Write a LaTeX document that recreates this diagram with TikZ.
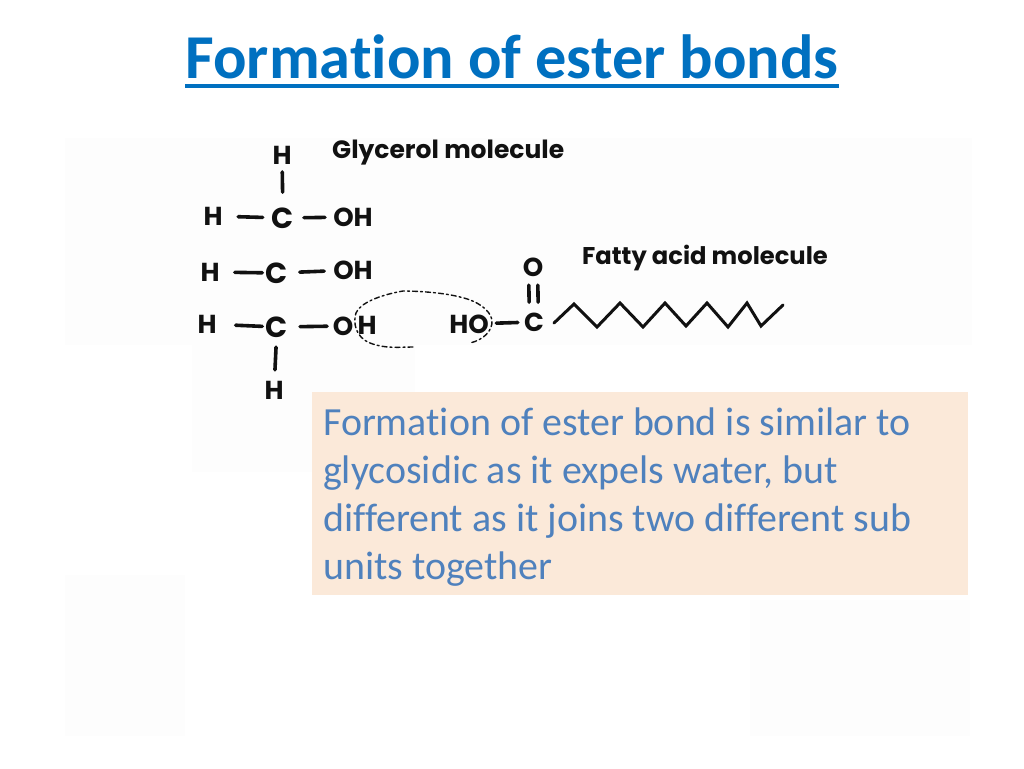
\documentclass[tikz,border=0pt]{standalone}
\usepackage{fontspec}
\setmainfont[Ligatures=NoCommon]{Carlito}
\newfontfamily\handfont{Poppins}
\usetikzlibrary{calc}
\definecolor{titleblue}{HTML}{0070C0}
\definecolor{bodyblue}{HTML}{4F81BD}
\definecolor{boxfill}{HTML}{FBE9D9}
\definecolor{patch}{HTML}{FDFDFD}
\definecolor{inkcol}{HTML}{111111}
\tikzset{
  atomlabel/.style={font=\handfont\fontsize{26}{26}\selectfont\bfseries,text=inkcol,inner sep=0pt,outer sep=0pt},
  bigatom/.style={font=\handfont\fontsize{29}{29}\selectfont\bfseries,text=inkcol,inner sep=0pt,outer sep=0pt},
  handlabel/.style={font=\handfont\fontsize{24.2}{25}\selectfont\bfseries,text=inkcol,inner sep=0pt,anchor=base west},
  bodyline/.style={font=\fontsize{39.9}{40}\selectfont,text=bodyblue,inner sep=0pt,anchor=base west},
  bondline/.style={draw=inkcol,line width=3.6pt,line cap=round},
  chainline/.style={draw=inkcol,line width=3pt,line join=miter,line cap=round},
  looplabel/.style={draw=inkcol,line width=1.4pt,dash pattern=on 5pt off 3pt on 2pt off 3pt,line cap=round},
  patchbox/.style={fill=patch,draw=none},
}
\begin{document}
\begin{tikzpicture}[x=1pt,y=-1pt]
\useasboundingbox (0,0) rectangle (1024,768);
\fill[white] (0,0) rectangle (1024,768);
% faint photo patches
\fill[patchbox] (65,138) rectangle (972,345);
\fill[patchbox] (192,345) rectangle (415,472);
\fill[patchbox] (65,575) rectangle (185,736);
\fill[patchbox] (750,600) rectangle (970,736);
% title
\node[font=\fontsize{62.4}{63}\selectfont\bfseries,text=titleblue,inner sep=0pt,anchor=base] (title) at (512,78.5) {Formation of ester bonds};
\draw[titleblue,line width=3.6pt] (title.west |- 0,86) coordinate (ula) -- (title.east |- 0,86) coordinate (ulb);
% text box
\node[fill=boxfill,minimum width=656pt,minimum height=203pt,inner sep=0pt,anchor=north west] (box) at (312,392) {};
\node[bodyline] (linea) at (323,435) {Formation of ester bond is similar to};
\node[bodyline] (lineb) at (323,483) {glycosidic as it expels water, but};
\node[bodyline] (linec) at (323,531) {different as it joins two different sub};
\node[bodyline] (lined) at (323,579) {units together};
% labels
\node[handlabel,font=\handfont\fontsize{25}{25}\selectfont\bfseries] (glyc) at (332,158) {Glycerol molecule};
\node[handlabel] (fatty) at (582,264) {Fatty acid molecule};
% atoms
\node[atomlabel] (h0) at (282,155) {H};
\node[bigatom] (c1) at (283,218) {C};
\node[atomlabel] (h1) at (213,216) {H};
\node[atomlabel] (oh1) at (353,217) {OH};
\node[bigatom] (c2) at (277,273) {C};
\node[atomlabel] (h2) at (210,272) {H};
\node[atomlabel] (oh2) at (353,270) {OH};
\node[bigatom] (c3) at (277,327) {C};
\node[atomlabel] (h3) at (207,324) {H};
\node[atomlabel] (o3) at (343,326) {O};
\node[atomlabel] (h4) at (367,325) {H};
\node[atomlabel] (h5) at (274,390) {H};
\node[atomlabel] (ho) at (469,324) {HO};
\node[atomlabel] (c4) at (534,322) {C};
\node[atomlabel] (o4) at (533,267) {O};
% bonds
\path (h0.center) -- (c1.center) coordinate[pos=.27] (ba) coordinate[pos=.59] (bb);
\draw[bondline] (ba) -- (bb);
\path (h1.center) -- (c1.center) coordinate[pos=.36] (ca) coordinate[pos=.71] (cb);
\draw[bondline] (ca) -- (cb);
\path (c1.center) -- (oh1.center) coordinate[pos=.30] (da) coordinate[pos=.60] (db);
\draw[bondline] (da) -- (db);
\path (h2.center) -- (c2.center) coordinate[pos=.37] (ea) coordinate[pos=.78] (eb);
\draw[bondline] (ea) -- (eb);
\path (c2.center) -- (oh2.center) coordinate[pos=.30] (fa) coordinate[pos=.62] (fb);
\draw[bondline] (fa) -- (fb);
\path (h3.center) -- (c3.center) coordinate[pos=.41] (ga) coordinate[pos=.79] (gb);
\draw[bondline] (ga) -- (gb);
\path (c3.center) -- (o3.center) coordinate[pos=.35] (ia) coordinate[pos=.76] (ib);
\draw[bondline] (ia) -- (ib);
\path (c3.center) -- (h5.center) coordinate[pos=.32] (ja) coordinate[pos=.68] (jb);
\draw[bondline] (ja) -- (jb);
\path (ho.center) -- (c4.center) coordinate[pos=.42] (ka) coordinate[pos=.75] (kb);
\draw[bondline] (ka) -- (kb);
\path (o4.center) -- (c4.center) coordinate[pos=.33] (la) coordinate[pos=.64] (lb);
\draw[bondline] ($(la)+(-4.5,0)$) -- ($(lb)+(-4.5,0)$);
\draw[bondline] ($(la)+(4.5,0)$) -- ($(lb)+(4.5,0)$);
% zigzag
\coordinate (z0) at (554,323);
\draw[chainline] (z0) -- (574,304) -- (597,327) -- (620,303) -- (643,327) -- (665,303) -- (686,326) -- (707,303) -- (728,327) -- (747,303) -- (761,326) -- (783,305);
% dashed loop
\coordinate (l0) at (413,347);
\draw[looplabel] (l0) .. controls (400,347) and (385,349) .. (370,343)
  .. controls (355,337) and (353,322) .. (356,313)
  .. controls (360,303) and (380,295) .. (403,291)
  .. controls (420,291) and (445,293) .. (460,297)
  .. controls (478,301) and (490,310) .. (492,320)
  .. controls (493,331) and (483,340) .. (470,343);
\end{tikzpicture}
\end{document}
